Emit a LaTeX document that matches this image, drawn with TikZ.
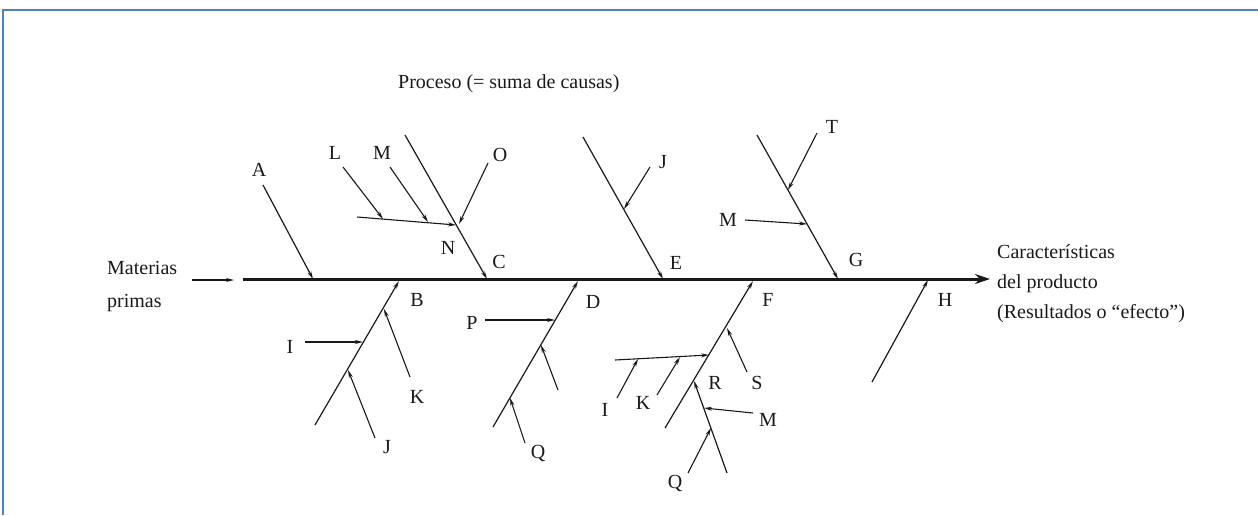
\documentclass[tikz,border=0pt]{standalone}
\usepackage{fontspec}
\setmainfont{Liberation Serif}
\usetikzlibrary{arrows.meta}
\definecolor{frameblue}{RGB}{79,129,189}
\definecolor{ink}{RGB}{25,25,25}
\begin{document}
\begin{tikzpicture}[x=1pt,y=-1pt,
  bone/.style={draw=ink,line width=1.2pt,-{Stealth[length=8pt,width=4pt]}},
  cause/.style={draw=ink,line width=1.1pt,-{Stealth[length=8pt,width=4pt]}},
  spine/.style={draw=ink,line width=3pt,-{Stealth[length=15pt,width=10pt]}},
  lbl/.style={text=ink,font=\fontsize{20}{22}\selectfont,inner sep=0pt},
  txt/.style={text=ink,font=\fontsize{20}{30}\selectfont,inner sep=0pt,align=left,anchor=west}]
\useasboundingbox (0,0) rectangle (1258,515);
\draw[frameblue,line width=2pt] (3,515) -- (3,10) -- (1258,10);

% texts
\node[txt] (proc) at (398,84) {Proceso (= suma de causas)};
\node[txt,anchor=north west,font=\fontsize{20}{33}\selectfont] (mat) at (107,261) {Materias\\primas};
\node[txt,anchor=north west] (car) at (997,244) {Características\\del producto\\(Resultados o “efecto”)};

% spine
\coordinate (s0) at (243,279);
\coordinate (s1) at (990,279);
\draw[spine] (s0) -- (s1);
\coordinate (m0) at (192,280);
\coordinate (m1) at (234,280);
\draw[cause] (m0) -- (m1);

% A
\coordinate (a0) at (263,185); \coordinate (a1) at (313,279);
\draw[bone] (a0) -- (a1);
\node[lbl] (lA) at (259,170) {A};

% C branch
\coordinate (c0) at (405,135); \coordinate (c1) at (487,279);
\draw[bone] (c0) -- (c1);
\node[lbl] (lC) at (499,262) {C};
\coordinate (n0) at (357,217); \coordinate (n1) at (456,225);
\draw[cause] (n0) -- (n1);
\node[lbl] (lN) at (448,248) {N};
\coordinate (l0) at (343,167); \coordinate (l1) at (383,219);
\draw[cause] (l0) -- (l1);
\node[lbl] (lL) at (335,153) {L};
\coordinate (mc0) at (390,167); \coordinate (mc1) at (428,222);
\draw[cause] (mc0) -- (mc1);
\node[lbl] (lM1) at (382,153) {M};
\coordinate (o0) at (488,163); \coordinate (o1) at (459,224);
\draw[cause] (o0) -- (o1);
\node[lbl] (lO) at (500,155) {O};

% E branch
\coordinate (e0) at (583,137); \coordinate (e1) at (663,279);
\draw[bone] (e0) -- (e1);
\node[lbl] (lE) at (676,263) {E};
\coordinate (je0) at (650,167); \coordinate (je1) at (624,209);
\draw[cause] (je0) -- (je1);
\node[lbl] (lJ1) at (663,162) {J};

% G branch
\coordinate (g0) at (757,135); \coordinate (g1) at (838,279);
\draw[bone] (g0) -- (g1);
\node[lbl] (lG) at (856,260) {G};
\coordinate (t0) at (817,133); \coordinate (t1) at (788,190);
\draw[cause] (t0) -- (t1);
\node[lbl] (lT) at (832,127) {T};
\coordinate (mg0) at (745,220); \coordinate (mg1) at (807,224);
\draw[cause] (mg0) -- (mg1);
\node[lbl] (lM2) at (728,220) {M};

% H
\coordinate (h0) at (872,382); \coordinate (h1) at (928,280);
\draw[bone] (h0) -- (h1);
\node[lbl] (lH) at (945,300) {H};

% B branch
\coordinate (b0) at (315,425); \coordinate (b1) at (399,281);
\draw[bone] (b0) -- (b1);
\node[lbl] (lB) at (417,300) {B};
\coordinate (ib0) at (305,342); \coordinate (ib1) at (363,342);
\draw[cause] (ib0) -- (ib1);
\node[lbl] (lI1) at (290,347) {I};
\coordinate (kb0) at (410,377); \coordinate (kb1) at (384,309);
\draw[cause] (kb0) -- (kb1);
\node[lbl] (lK1) at (417,397) {K};
\coordinate (jb0) at (375,438); \coordinate (jb1) at (348,370);
\draw[cause] (jb0) -- (jb1);
\node[lbl] (lJ2) at (387,447) {J};

% D branch
\coordinate (d0) at (493,427); \coordinate (d1) at (578,281);
\draw[bone] (d0) -- (d1);
\node[lbl] (lD) at (593,302) {D};
\coordinate (p0) at (485,320); \coordinate (p1) at (555,320);
\draw[cause] (p0) -- (p1);
\node[lbl] (lP) at (472,323) {P};
\coordinate (u0) at (558,390); \coordinate (u1) at (541,345);
\draw[cause] (u0) -- (u1);
\coordinate (qd0) at (525,443); \coordinate (qd1) at (510,398);
\draw[cause] (qd0) -- (qd1);
\node[lbl] (lQ1) at (538,453) {Q};

% F branch
\coordinate (f0) at (665,428); \coordinate (f1) at (753,281);
\draw[bone] (f0) -- (f1);
\node[lbl] (lF) at (768,300) {F};
\coordinate (s2) at (747,372); \coordinate (s3) at (727,328);
\draw[cause] (s2) -- (s3);
\node[lbl] (lS) at (757,383) {S};
\coordinate (hb0) at (615,360); \coordinate (hb1) at (709,355);
\draw[cause] (hb0) -- (hb1);
\coordinate (if0) at (617,398); \coordinate (if1) at (638,359);
\draw[cause] (if0) -- (if1);
\node[lbl] (lI2) at (605,410) {I};
\coordinate (kf0) at (657,395); \coordinate (kf1) at (680,357);
\draw[cause] (kf0) -- (kf1);
\node[lbl] (lK2) at (643,403) {K};
\coordinate (r0) at (727,473); \coordinate (r1) at (694,381);
\draw[bone] (r0) -- (r1);
\node[lbl] (lR) at (715,383) {R};
\coordinate (mf0) at (753,413); \coordinate (mf1) at (704,408);
\draw[cause] (mf0) -- (mf1);
\node[lbl] (lM3) at (768,420) {M};
\coordinate (qf0) at (688,473); \coordinate (qf1) at (711,428);
\draw[cause] (qf0) -- (qf1);
\node[lbl] (lQ2) at (675,483) {Q};
\end{tikzpicture}
\end{document}
